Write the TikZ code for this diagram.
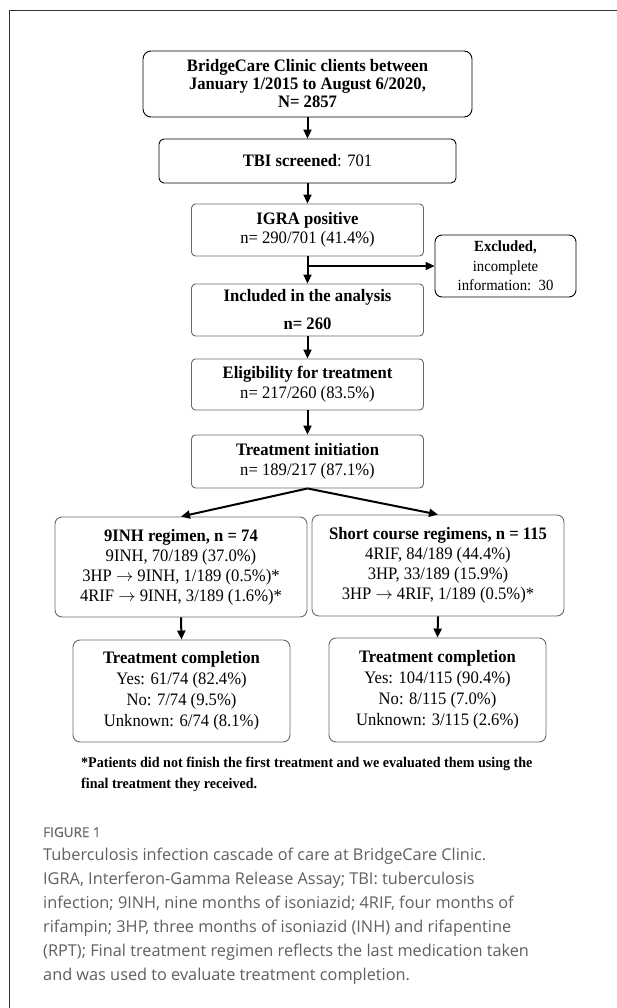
\documentclass[tikz,border=0pt]{standalone}
\usepackage{fontspec}
\setmainfont{Liberation Serif}[FakeStretch=0.95]
\newfontfamily\capfont{Open Sans}
\newfontfamily\figfont{Open Sans}[FakeBold=0.8]
\usetikzlibrary{arrows.meta}
\definecolor{capgray}{RGB}{95,95,95}
\definecolor{figgray}{RGB}{105,105,105}
\definecolor{boxgray}{RGB}{105,105,105}
\begin{document}
\begin{tikzpicture}[x=1pt,y=-1pt,
  box/.style={draw=boxgray, line width=0.9pt, rounded corners=4pt, align=center,
    inner sep=0pt, font=\fontsize{17.5}{20}\selectfont},
  arr/.style={-{Triangle[length=9pt,width=8pt]}, line width=2pt},
  capline/.style={anchor=base west, inner sep=0pt, text=capgray, font=\capfont\fontsize{16.3}{24}\selectfont},
  noteline/.style={anchor=base west, inner sep=0pt, font=\bfseries\fontsize{14.8}{16}\selectfont},
]
\useasboundingbox (0,0) rectangle (617,1008);
\draw[line width=1.3pt, black!80] (617,10.5) -- (9.5,10.5) -- (9.5,1008);

\node[box, draw=black, rounded corners=8pt, minimum width=329pt, minimum height=66pt,
  font=\fontsize{17.5}{18}\selectfont] (b1) at (307.5,84)
  {\textbf{BridgeCare Clinic clients between}\\\textbf{January 1/2015 to August 6/2020,}\\\textbf{N= 2857}};
\node[box, draw=black, rounded corners=5pt, minimum width=297pt, minimum height=44pt] (b2) at (307.5,161)
  {\textbf{TBI screened}: 701};
\node[box, minimum width=232pt, minimum height=52pt, font=\fontsize{17.5}{19}\selectfont] (b3) at (307.5,230)
  {\textbf{IGRA positive}\\n= 290/701 (41.4\%)};
\node[box, draw=black, rounded corners=7pt, minimum width=141pt, minimum height=62pt,
  font=\fontsize{15.5}{19.5}\selectfont] (ex) at (505.5,266)
  {\textbf{Excluded,}\\incomplete\\information:\ \ 30};
\node[box, minimum width=232pt, minimum height=52pt, font=\fontsize{17.5}{28}\selectfont] (b4) at (307.5,310)
  {\textbf{Included in the analysis}\\\textbf{n= 260}};
\node[box, minimum width=232pt, minimum height=51pt] (b5) at (307.5,384.5)
  {\textbf{Eligibility for treatment}\\n= 217/260 (83.5\%)};
\node[box, minimum width=232pt, minimum height=53pt] (b6) at (307.5,461.5)
  {\textbf{Treatment initiation}\\n= 189/217 (87.1\%)};
\node[box, rounded corners=7pt, minimum width=252pt, minimum height=100pt] (b7) at (181,567)
  {\textbf{9INH regimen, n = 74}\\9INH, 70/189 (37.0\%)\\3HP $\rightarrow$ 9INH, 1/189 (0.5\%)*\\4RIF $\rightarrow$ 9INH, 3/189 (1.6\%)*};
\node[box, rounded corners=7pt, minimum width=252pt, minimum height=101pt] (b8) at (438,565.5)
  {\textbf{Short course regimens, n = 115}\\4RIF, 84/189 (44.4\%)\\3HP, 33/189 (15.9\%)\\3HP $\rightarrow$ 4RIF, 1/189 (0.5\%)*};
\node[box, rounded corners=7pt, minimum width=217pt, minimum height=102pt, font=\fontsize{17.5}{21}\selectfont] (b9) at (181.5,691)
  {\textbf{Treatment completion}\\Yes: 61/74 (82.4\%)\\No: 7/74 (9.5\%)\\Unknown: 6/74 (8.1\%)};
\node[box, rounded corners=7pt, minimum width=217pt, minimum height=104pt, font=\fontsize{17.5}{21}\selectfont] (b10) at (437.5,690)
  {\textbf{Treatment completion}\\Yes: 104/115 (90.4\%)\\No: 8/115 (7.0\%)\\Unknown: 3/115 (2.6\%)};

\coordinate (br) at (b3.south |- ex.west);
\draw[arr] (b1.south) -- (b2.north);
\draw[arr] (b2.south) -- (b3.north);
\draw[arr] (b3.south) -- (b4.north);
\draw[arr] (br) -- (ex.west);
\draw[arr] (b4.south) -- (b5.north);
\draw[arr] (b5.south) -- (b6.north);
\draw[arr] (b6.south) -- (b7.north);
\draw[arr] (b6.south) -- (b8.north);
\draw[arr] (b7.south) -- (b9.north);
\draw[arr] (b8.south) -- (b10.north);

\node[noteline] (n1) at (81,767) {*Patients did not finish the first treatment and we evaluated them using the};
\node[noteline] (n2) at (81,788) {final treatment they received.};

\node[capline, text=figgray, font=\figfont\fontsize{13.5}{16}\selectfont] (fig) at (43,837) {FIGURE 1};
\node[capline] (c1) at (43,860.5) {Tuberculosis infection cascade of care at BridgeCare Clinic.};
\node[capline] (c2) at (43,884.5) {IGRA, Interferon-Gamma Release Assay; TBI: tuberculosis};
\node[capline] (c3) at (43,908.5) {infection; 9INH, nine months of isoniazid; 4RIF, four months of};
\node[capline] (c4) at (43,932.5) {rifampin; 3HP, three months of isoniazid (INH) and rifapentine};
\node[capline] (c5) at (43,956.5) {(RPT); Final treatment regimen reflects the last medication taken};
\node[capline] (c6) at (43,980.5) {and was used to evaluate treatment completion.};
\end{tikzpicture}
\end{document}
